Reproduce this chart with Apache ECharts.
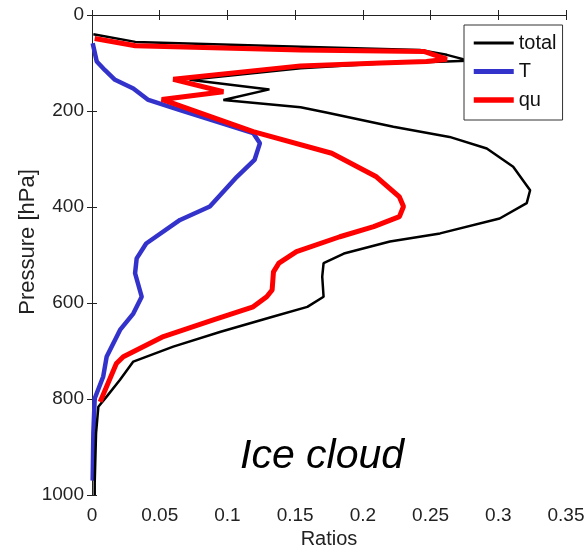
<!DOCTYPE html>
<html>
<head>
<meta charset="utf-8">
<script src="https://cdn.jsdelivr.net/npm/echarts@6/dist/echarts.min.js"></script>
<style>html,body{margin:0;padding:0;background:#fff;}#c{width:586px;height:552px;}</style>
</head>
<body>
<div id="c"></div>
<script>
// ---- data ----
var seriesNames = ['total', 'T', 'qu'];
var xTicks = [0, 0.05, 0.1, 0.15, 0.2, 0.25, 0.3, 0.35];
var yTicks = [0, 200, 400, 600, 800, 1000];

var totalRatio = [0.001, 0.032, 0.154, 0.242, 0.262, 0.274, 0.282, 0.262, 0.213, 0.154, 0.072, 0.131, 0.097, 0.154, 0.173, 0.2225, 0.264, 0.2915, 0.311, 0.3235, 0.321, 0.301, 0.257, 0.220, 0.186, 0.171, 0.170, 0.171, 0.159, 0.134, 0.095, 0.060, 0.0305, 0.0207, 0.0108, 0.0047, 0.003, 0.002, 0.002];
var totalP     = [40, 56, 66, 73, 83, 92, 95, 97, 101, 111, 135, 155, 177, 192, 203, 233, 254, 278, 316, 365, 392, 424, 455, 472, 497, 517, 545, 587, 608, 628, 660, 691, 722, 760, 795, 816, 871, 975, 1000];

var tRatio = [0.0005, 0.0035, 0.0096, 0.017, 0.0305, 0.0416, 0.065, 0.119, 0.124, 0.120, 0.107, 0.087, 0.065, 0.040, 0.033, 0.0318, 0.0367, 0.0305, 0.0207, 0.0108, 0.0083, 0.002, 0.001, 0.0005];
var tP     = [59, 97, 115, 135, 153, 177, 198, 246, 267, 302, 337, 399, 427, 476, 507, 538, 587, 622, 656, 712, 753, 799, 871, 970];

var quRatio = [0.002, 0.032, 0.154, 0.245, 0.262, 0.247, 0.213, 0.154, 0.060, 0.097, 0.0515, 0.119, 0.177, 0.210, 0.227, 0.230, 0.227, 0.208, 0.183, 0.151, 0.138, 0.134, 0.133, 0.129, 0.119, 0.0896, 0.0527, 0.0231, 0.018, 0.006];
var quP     = [49, 64, 73, 76, 92, 97, 100, 106, 134, 160, 176, 243, 288, 337, 379, 399, 420, 441, 462, 493, 517, 535, 573, 587, 608, 635, 670, 712, 726, 806];

var seriesColors = ['#000000', '#3333cc', '#ff0000'];
var seriesWidths = [2.5, 4.5, 5];

function zip(xs, ys) { return xs.map(function (v, i) { return [v, ys[i]]; }); }

var font = '"Liberation Sans", Arial, sans-serif';

var chart = echarts.init(document.getElementById('c'), null, { renderer: 'canvas' });
var axisLine = { show: true, lineStyle: { color: '#222', width: 1 } };
var tick = { show: true, inside: true, length: 5, lineStyle: { color: '#222' } };

chart.setOption({
  animation: false,
  backgroundColor: '#fff',
  grid: { left: 92, right: 20, top: 15, bottom: 57, containLabel: false, outerBoundsMode: 'none' },
  xAxis: [{
    type: 'value', min: xTicks[0], max: xTicks[xTicks.length - 1], interval: 0.05,
    position: 'bottom',
    name: 'Ratios', nameLocation: 'middle', nameGap: 34, nameMoveOverlap: false,
    nameTextStyle: { fontFamily: font, fontSize: 20, color: '#222' },
    axisLine: axisLine, axisTick: tick, splitLine: { show: false },
    axisLabel: { fontFamily: font, fontSize: 19, color: '#222', margin: 11,
      formatter: function (v) { return String(+v.toFixed(2)); } }
  }, {
    type: 'value', min: xTicks[0], max: xTicks[xTicks.length - 1], interval: 0.05,
    position: 'top', axisLine: axisLine, axisTick: tick, splitLine: { show: false },
    axisLabel: { show: false }
  }],
  yAxis: [{
    type: 'value', min: yTicks[0], max: yTicks[yTicks.length - 1], interval: 200, inverse: true,
    position: 'left',
    name: 'Pressure [hPa]', nameLocation: 'middle', nameGap: 53, nameMoveOverlap: false,
    nameTextStyle: { fontFamily: font, fontSize: 22, color: '#222', padding: [0, 0, 0, 26] },
    axisLine: axisLine, axisTick: tick, splitLine: { show: false },
    axisLabel: { fontFamily: font, fontSize: 19, color: '#222', margin: 8,
      formatter: function (v) { return String(v); } }
  }, {
    type: 'value', min: yTicks[0], max: yTicks[yTicks.length - 1], interval: 200, inverse: true,
    position: 'right', axisLine: axisLine, axisTick: tick, splitLine: { show: false },
    axisLabel: { show: false }
  }],
  legend: {
    orient: 'vertical', left: 464, top: 25, align: 'left',
    data: seriesNames.map(function (n, i) {
      return { name: n, lineStyle: { color: seriesColors[i], width: seriesWidths[i] + 0.5 } };
    }),
    backgroundColor: '#fff', borderColor: '#333', borderWidth: 1,
    padding: [6, 6, 8, 7], itemGap: 4.5, itemWidth: 40, itemHeight: 14,
    itemStyle: { opacity: 0 },
    textStyle: { fontFamily: font, fontSize: 20, color: '#111', lineHeight: 24 }
  },
  series: seriesNames.map(function (n, i) {
    var d = [zip(totalRatio, totalP), zip(tRatio, tP), zip(quRatio, quP)][i];
    return {
      name: n, type: 'line', symbol: 'none', showSymbol: false, smooth: false, z: [3, 2, 4][i],
      data: d,
      lineStyle: { color: seriesColors[i], width: seriesWidths[i] },
      itemStyle: { color: seriesColors[i] }
    };
  }),
  graphic: [{
    type: 'text', left: 240, top: 436, z: 10,
    style: { text: 'Ice cloud', font: 'italic 41px "Liberation Sans", Arial, sans-serif', fill: '#000' }
  }]
});
</script>
</body>
</html>
